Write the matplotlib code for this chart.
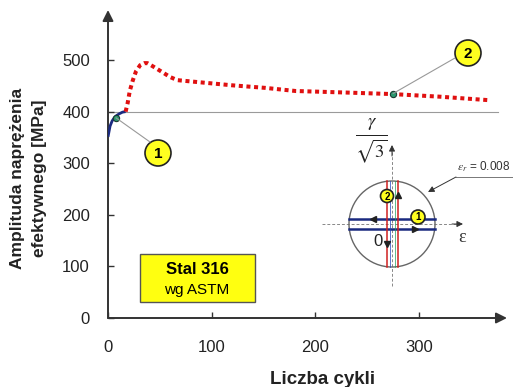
import matplotlib
matplotlib.use('Agg')
import matplotlib.pyplot as plt
from matplotlib.patches import Circle, Rectangle, ConnectionPatch

# -------------------------------------------------------------------------------------------------------------------- #
# Data
# -------------------------------------------------------------------------------------------------------------------- #

# Initial loading (solid blue)
blue_cycles = [0, 2, 4, 6, 8, 11, 14, 17]
blue_stress = [351, 372, 382, 388, 392, 396, 399, 400]

# Cyclic hardening / softening (red dotted)
red_cycles = [17, 19, 21, 24, 27, 31, 35, 38, 44, 52, 60, 67, 88, 120, 152, 181, 230, 275, 320, 369]
red_stress = [400, 417, 440, 461, 478, 490, 494, 494, 487, 477, 467, 461, 457, 451, 446, 440, 437, 434, 429, 422]

# Reference level and marked points
ref_level = 400
ref_end = 376
point1 = (7.7, 388)
point2 = (275, 435)

x_ticks = [0, 100, 200, 300]
y_ticks = [0, 100, 200, 300, 400, 500]

# -------------------------------------------------------------------------------------------------------------------- #
# Figure
# -------------------------------------------------------------------------------------------------------------------- #

plt.rcParams['font.family'] = ['Liberation Sans', 'DejaVu Sans']
W, H = 513, 387
fig = plt.figure(figsize=(W / 100, H / 100), dpi=100)

# main axes placed in pixel units
ax = fig.add_axes([108 / W, 1 - 318 / H, 399 / W, 308 / H])
ax.set_xlim(0, 385)
ax.set_ylim(0, 597)
for s in ax.spines.values():
    s.set_visible(False)

axis_col = '#333333'
ax.annotate('', xy=(1, 0), xytext=(0, 0), xycoords='axes fraction',
            arrowprops=dict(arrowstyle='-|>', lw=1.4, color=axis_col, mutation_scale=16, shrinkA=0, shrinkB=0))
ax.annotate('', xy=(0, 1), xytext=(0, 0), xycoords='axes fraction',
            arrowprops=dict(arrowstyle='-|>', lw=1.4, color=axis_col, mutation_scale=16, shrinkA=0, shrinkB=0))

ax.set_xticks(x_ticks)
ax.set_yticks(y_ticks)
ax.tick_params(axis='both', direction='in', length=4, width=1, color=axis_col, labelsize=12, labelcolor='#222222')
ax.tick_params(axis='x', pad=16)
ax.tick_params(axis='y', pad=13)

# reference line
ax.plot([0, ref_end], [ref_level, ref_level], color='#9a9a9a', lw=0.8, zorder=1)

# curves
ax.plot(blue_cycles, blue_stress, color='#1a2a80', lw=2, solid_capstyle='butt', zorder=3)
ax.plot(red_cycles, red_stress, color='#e01010', lw=2.9, linestyle=(0, (1, 0.9)),
        dash_capstyle='butt', zorder=3)

for p in (point1, point2):
    ax.plot(*p, 'o', ms=4.5, mfc='#2a9a70', mec='#1a3a30', mew=0.8, zorder=5)

# overlay in pixel coordinates for annotations
ov = fig.add_axes([0, 0, 1, 1])
ov.set_xlim(0, W)
ov.set_ylim(H, 0)
ov.axis('off')
ov.patch.set_alpha(0)


def label_circle(x, y, r, txt, fs):
    ov.add_patch(Circle((x, y), r, fc='#ffff20', ec='#222222', lw=1.2, zorder=6))
    ov.text(x, y + 0.5, txt, ha='center', va='center', fontsize=fs, fontweight='bold', zorder=7)


# callouts
for p, c in ((point1, (150, 142)), (point2, (455, 58))):
    con = ConnectionPatch(xyA=p, coordsA=ax.transData, xyB=c, coordsB=ov.transData,
                          color='#999999', lw=0.8, zorder=4)
    fig.add_artist(con)
label_circle(158, 153, 13, '1', 11)
label_circle(468, 53, 13, '2', 11)

# material box
ov.add_patch(Rectangle((140, 254), 115, 48, fc='#ffff10', ec='#555555', lw=1, zorder=5))
ov.text(197, 270, 'Stal 316', ha='center', va='center', fontsize=12, fontweight='bold', zorder=6)
ov.text(197, 290, 'wg ASTM', ha='center', va='center', fontsize=11, zorder=6)

# axis labels
fig.text(18 / W, 1 - 178 / H, 'Amplituda naprężenia', rotation=90, ha='center', va='center',
         fontsize=12.5, fontweight='bold', color='#222222')
fig.text(40 / W, 1 - 178 / H, 'efektywnego [MPa]', rotation=90, ha='center', va='center',
         fontsize=12.5, fontweight='bold', color='#222222')
fig.text(323 / W, 1 - 380 / H, 'Liczba cykli', ha='center', va='center',
         fontsize=13.5, fontweight='bold', color='#222222')

# -------------------------------------------------------------------------------------------------------------------- #
# Strain-path inset (schematic)
# -------------------------------------------------------------------------------------------------------------------- #

cx, cy, r = 392, 224, 43
ov.add_patch(Circle((cx, cy), r, fc='none', ec='#666666', lw=1, zorder=3))

# axes of the inset
ov.plot([322, 458], [224, 224], color='#888888', lw=0.7, ls=(0, (3, 2)), zorder=2)
ov.annotate('', xy=(463, 224), xytext=(452, 224),
            arrowprops=dict(arrowstyle='-|>', color='#333333', lw=0.7, mutation_scale=9, shrinkA=0, shrinkB=0))
ov.plot([392, 392], [286, 150], color='#888888', lw=0.7, ls=(0, (3, 2)), zorder=2)
ov.annotate('', xy=(392, 145), xytext=(392, 156),
            arrowprops=dict(arrowstyle='-|>', color='#333333', lw=0.7, mutation_scale=9, shrinkA=0, shrinkB=0))

ov.text(371, 141, r'$\frac{\gamma}{\sqrt{3}}$', ha='center', va='center', fontsize=19, math_fontfamily='stix',
        color='#222222')
ov.text(462, 238, 'ε', ha='center', va='center', fontsize=13, family='Liberation Serif', color='#333333')
ov.text(457, 167, r'$\varepsilon_r$ = 0.008', ha='left', va='center', fontsize=8.5, math_fontfamily='stix',
        color='#333333')
ov.plot([456, 513], [177, 177], color='#777777', lw=0.7, zorder=2)
ov.annotate('', xy=(428, 192), xytext=(456, 177),
            arrowprops=dict(arrowstyle='-|>', color='#333333', lw=0.7, mutation_scale=9, shrinkA=0, shrinkB=0))

# loading paths
for yy in (219, 229):
    dx = (r ** 2 - (yy - cy) ** 2) ** 0.5
    ov.plot([cx - dx, cx + dx], [yy, yy], color='#1a2a80', lw=1.8, zorder=4)
for xx in (387, 398):
    dy = (r ** 2 - (xx - cx) ** 2) ** 0.5
    ov.plot([xx, xx], [cy - dy, cy + dy], color='#d02020', lw=1.1, zorder=4)
for xx, col in ((389.5, '#2040c0'), (394.5, '#20a060')):
    dy = (r ** 2 - (xx - cx) ** 2) ** 0.5
    ov.plot([xx, xx], [cy - dy, cy + dy], color=col, lw=0.5, zorder=4)

ov.plot(373, 219, marker='<', ms=5, color='#222222', zorder=5)
ov.plot(415, 229, marker='>', ms=5, color='#222222', zorder=5)
ov.plot(398, 195, marker='^', ms=5, color='#222222', zorder=5)
ov.plot(387, 244, marker='v', ms=5, color='#222222', zorder=5)
ov.text(378, 241, '0', ha='center', va='center', fontsize=12, color='#222222', zorder=5)

label_circle(387, 196, 6.5, '2', 7)
label_circle(418, 217, 7, '1', 7)

fig.savefig('out.png', dpi=100)
